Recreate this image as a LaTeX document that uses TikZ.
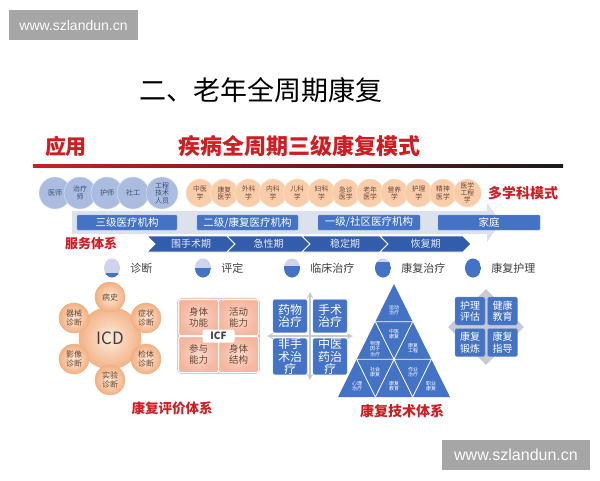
\documentclass[tikz,border=0pt]{standalone}
\usepackage{fontspec}
\setmainfont{Noto Sans CJK SC}
\newfontfamily\urlfont{Liberation Sans}
\usetikzlibrary{arrows,shapes.geometric}

\definecolor{hired}{RGB}{206,30,36}
\definecolor{barblue}{RGB}{68,114,196}
\definecolor{phaseblue}{RGB}{50,92,172}
\definecolor{staffblue}{RGB}{170,189,224}
\definecolor{staffink}{RGB}{60,78,120}
\definecolor{lavender}{RGB}{204,211,235}
\definecolor{peach}{RGB}{249,205,170}
\definecolor{peachedge}{RGB}{242,176,130}
\definecolor{peachink}{RGB}{105,72,55}
\definecolor{salmon}{RGB}{244,182,158}
\definecolor{backarrow}{RGB}{220,225,238}
\definecolor{crossgray}{RGB}{198,202,212}
\definecolor{wmgray}{RGB}{166,166,166}
\definecolor{inkgray}{RGB}{64,64,64}

\tikzset{
  heading/.style={text=hired,inner sep=0pt,font=\bfseries\fontsize{#1}{#1}\selectfont},
  staff/.style={circle,minimum size=32pt,inner sep=0pt,fill=staffblue,draw=white!60!staffblue,
    text=staffink,align=center,font=\fontsize{7}{7.5}\selectfont},
  subject/.style={circle,minimum size=28pt,inner sep=0pt,fill=peach,draw=white!50!peach,
    text=peachink,align=center,font=\fontsize{6.8}{7.2}\selectfont},
  orgbar/.style={minimum width=#1,minimum height=15pt,inner sep=0pt,fill=barblue,
    draw=white!30!barblue,rounded corners=1pt,text=white,font=\fontsize{10.5}{11}\selectfont},
  phasetext/.style={text=white!88!phaseblue,inner sep=0pt,font=\fontsize{10}{10}\selectfont},
  legdot/.style={ellipse,minimum width=16pt,minimum height=19pt,inner sep=0pt,fill=lavender,
    path picture={\fill[barblue] (path picture bounding box.south west)
      rectangle ([yshift=#1]path picture bounding box.south east);}},
  legtext/.style={anchor=west,inner sep=0pt,text=inkgray,font=\fontsize{11}{11}\selectfont},
  icdpetal/.style={circle,minimum size=30pt,inner sep=0pt,draw=peachedge,
    inner color=white!55!peach,outer color=peachedge,text=peachink,align=center,
    font=\fontsize{8}{9}\selectfont},
  icfpart/.style={minimum width=40pt,minimum height=36pt,inner sep=0pt,draw=white,line width=1pt,
    rounded corners=2pt,inner color=white!45!salmon,outer color=salmon,text=peachink,
    align=center,font=\fontsize{9.5}{11}\selectfont},
  treatbox/.style={minimum width=34pt,minimum height=33pt,inner sep=0pt,rounded corners=2pt,
    fill=barblue,draw=white!35!barblue,text=white,align=center,font=\fontsize{12}{12.5}\selectfont},
  pyrtext/.style={inner sep=0pt,text=white,align=center,font=\fontsize{5}{5.5}\selectfont},
  carebox/.style={minimum width=30pt,minimum height=28pt,inner sep=0pt,rounded corners=2pt,
    fill=barblue,draw=white!35!barblue,text=white,align=center,font=\fontsize{10}{11.5}\selectfont},
  wmbox/.style={fill=wmgray,inner sep=0pt,minimum height=30pt,text=white!95!wmgray}
}

\begin{document}
\begin{tikzpicture}[x=1pt,y=-1pt]
  \fill[white] (0,0) rectangle (600,480);
  \useasboundingbox (0,0) rectangle (600,480);

  % headings
  \node[inner sep=0pt,font=\fontsize{27}{27}\selectfont] (title) at (261,90) {二、老年全周期康复};
  \node[heading=21] (apply) at (66,146) {应用};
  \node[heading=22] (model) at (299,146) {疾病全周期三级康复模式};
  \shade[left color=hired,middle color=hired,right color=black!90] (33,164.5) rectangle (563,167.5);

  % background arrow
  \fill[backarrow] (72,211) -- (487,211) -- (487,203) -- (501,222.5) -- (487,242) -- (487,234) -- (72,234) -- cycle;

  % staff and subjects
  \foreach \x/\t [count=\n] in {55/医师, 80/治疗\\师, 107/护师, 133/社工, 162/工程\\技术\\人员}
    \node[staff] (staff\n) at (\x,193) {\t};
  \foreach \t [count=\n from 0] in {中医\\学, 康复\\医学, 外科\\学, 内科\\学, 儿科\\学, 妇科\\学,
      急诊\\医学, 老年\\医学, 营养\\学, 护理\\学, 精神\\医学, 医学\\工程\\学}
    \node[subject] (subj\n) at ({200+24.3*\n},193) {\t};
  \node[heading=14] (multi) at (523,193) {多学科模式};

  % institutions
  \node[orgbar=100pt] (org3) at (127,222.5) {三级医疗机构};
  \node[orgbar=101pt] (org2) at (247.5,222.5) {二级/康复医疗机构};
  \node[orgbar=102pt] (org1) at (369,222.5) {一级/社区医疗机构};
  \node[orgbar=102pt] (home) at (489,222.5) {家庭};

  % phases
  \node[heading=13] (service) at (91,244) {服务体系};
  \foreach \a/\b/\t [count=\n] in {147/227/围手术期, 227/302/急性期, 302/380/稳定期, 380/463/恢复期}{
    \filldraw[fill=phaseblue,draw=white,line width=0.8pt]
      (\a,236) -- (\b,236) -- ({\b+8},244) -- (\b,252) -- (\a,252) -- ({\a+8},244) -- cycle;
    \node[phasetext] (phase\n) at ({(\a+\b)/2+4},244) {\t};
  }

  % legend
  \foreach \x/\h/\t [count=\n] in {112/5pt/诊断, 203/9.5pt/评定, 292/11.5pt/临床治疗, 383/16pt/康复治疗, 473/20pt/康复护理}{
    \node[legdot=\h] (dot\n) at (\x,268) {};
    \node[legtext] (leg\n) at ([xshift=10pt]dot\n.east) {\t};
  }

  % ICD
  \node[circle,minimum size=62pt,inner sep=0pt,draw=peachedge,inner color=white!60!peach,
    outer color=peachedge!90!peach,text=inkgray,font=\fontsize{17}{17}\selectfont] (icd) at (110,338) {ICD};
  \foreach \x/\y/\t [count=\n] in {110/297/病史, 146/318/症状\\诊断, 146/359/检体\\诊断,
      110/380/实验\\诊断, 74/359/影像\\诊断, 74/318/器械\\诊断}
    \node[icdpetal] (petal\n) at (\x,\y) {\t};

  % ICF
  \filldraw[fill=salmon,draw=salmon!85!black,rounded corners=4pt] (177.5,298.5) rectangle (259.5,373.5);
  \node[icfpart] (icf1) at (198.5,317.5) {身体\\功能};
  \node[icfpart] (icf2) at (238.5,317.5) {活动\\能力};
  \node[icfpart] (icf3) at (198.5,354.5) {参与\\能力};
  \node[icfpart] (icf4) at (238.5,354.5) {身体\\结构};
  \node[fill=white,rounded corners=2pt,minimum width=32pt,minimum height=13pt,inner sep=0pt,
    text=inkgray,font=\bfseries\fontsize{10}{10}\selectfont] (icf) at (218.5,336) {ICF};
  \node[heading=13.5] (evalsys) at (172,408) {康复评价体系};

  % treatments
  \coordinate (crossW) at (267,336);
  \coordinate (crossE) at (353,336);
  \coordinate (crossN) at (310,292);
  \coordinate (crossS) at (310,380);
  \draw[crossgray,line width=1.8pt,stealth-stealth] (crossW) -- (crossE);
  \draw[crossgray,line width=1.8pt,stealth-stealth] (crossN) -- (crossS);
  \node[treatbox] (drug) at (290,316) {药物\\治疗};
  \node[treatbox] (surg) at (330,316) {手术\\治疗};
  \node[treatbox] (nonsurg) at (290,356.5) {非手\\术治\\疗};
  \node[treatbox] (tcm) at (330,356.5) {中医\\药治\\疗};

  % pyramid
  \foreach \k in {0,...,3}
    \foreach \i in {0,...,\k}
      \coordinate (p\k\i) at ({394+(\i-\k/2)*37.33},{284+\k*37.67});
  \fill[barblue] (p00) -- (p30) -- (p33) -- cycle;
  \draw[white,line width=0.8pt] (p10) -- (p11) (p20) -- (p22) (p11) -- (p31) (p22) -- (p32)
    (p10) -- (p32) (p20) -- (p31);
  \node[pyrtext] (sport) at (394,310) {运动\\治疗};
  \node[pyrtext] (tcmrehab) at (394,334) {中医\\康复};
  \node[pyrtext] (physio) at (375,349) {物理\\因子\\治疗};
  \node[pyrtext] (engin) at (413,348) {康复\\工程};
  \node[pyrtext] (psych) at (357,386) {心理\\治疗};
  \node[pyrtext] (social) at (375,372) {社会\\康复};
  \node[pyrtext] (educ) at (394,386) {康复\\教育};
  \node[pyrtext] (occup) at (413,372) {作业\\治疗};
  \node[pyrtext] (vocat) at (431,386) {职业\\康复};
  \node[heading=14] (techsys) at (402,411) {康复技术体系};

  % care
  \node[diamond,fill=crossgray,minimum width=76pt,minimum height=76pt,inner sep=0pt] (carediamond) at (486,327) {};
  \node[carebox] (assess) at (470,311) {护理\\评估};
  \node[carebox] (healthed) at (502.5,311) {健康\\教育};
  \node[carebox] (train) at (470,342.5) {康复\\锻炼};
  \node[carebox] (guide) at (502.5,342.5) {康复\\指导};

  % watermarks
  \node[wmbox,minimum width=129pt,font=\urlfont\fontsize{14}{14}\selectfont] (wmtop) at (73.5,25) {www.szlandun.cn};
  \node[wmbox,minimum width=148pt,font=\urlfont\fontsize{16}{16}\selectfont] (wmbottom) at (516,455) {www.szlandun.cn};
\end{tikzpicture}
\end{document}
